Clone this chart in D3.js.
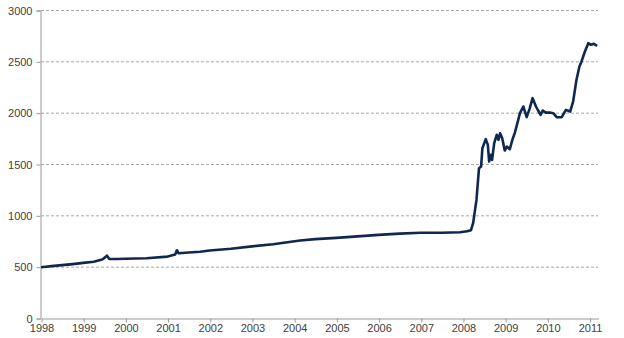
<!DOCTYPE html>
<html>
<head>
<meta charset="utf-8">
<script src="https://cdn.jsdelivr.net/npm/d3@7"></script>
<style>
    body { margin: 0; background: #fff; }
    svg { display: block; }
</style>
</head>
<body>
<div id="chart"></div>
<script>
// data (decimal year, value)
const years = [
    1998.0, 1998.25, 1998.5, 1998.75, 1999.0, 1999.25, 1999.45, 1999.52, 1999.56, 1999.62, 1999.8,
    2000.0, 2000.5, 2001.0, 2001.18, 2001.22, 2001.26, 2001.5, 2001.77, 2002.0, 2002.5, 2003.0, 2003.5,
    2004.14, 2004.5, 2005.0, 2005.5, 2006.0, 2006.5, 2007.0, 2007.5, 2007.93, 2008.1, 2008.19,
    2008.24, 2008.32, 2008.38, 2008.43, 2008.46, 2008.54, 2008.59, 2008.62, 2008.66, 2008.69,
    2008.74, 2008.8, 2008.84, 2008.88, 2008.93, 2008.99, 2009.04, 2009.11, 2009.17, 2009.23,
    2009.31, 2009.35, 2009.43, 2009.51, 2009.58, 2009.65, 2009.73, 2009.78, 2009.84, 2009.89,
    2009.96, 2010.06, 2010.14, 2010.22, 2010.34, 2010.44, 2010.54, 2010.61, 2010.69, 2010.76,
    2010.79, 2010.81, 2010.89, 2010.97, 2011.03, 2011.1, 2011.18
];
const values = [
    495, 505, 515, 525, 537, 548, 570, 590, 608, 575, 575,
    577, 582, 598, 618, 660, 630, 638, 646, 658, 675, 698, 718,
    755, 768, 780, 795, 810, 822, 830, 830, 835, 845, 855,
    923, 1150, 1459, 1475, 1654, 1742, 1686, 1524, 1589, 1540,
    1703, 1784, 1735, 1800, 1751, 1631, 1670, 1644, 1735, 1806,
    1930, 1995, 2060, 1956, 2040, 2141, 2060, 2021, 1979, 2021,
    2000, 2001, 1995, 1956, 1956, 2027, 2011, 2108, 2320, 2450,
    2480, 2499, 2596, 2677, 2661, 2671, 2651
];
const xTicks = d3.range(1998, 2012);
const yTicks = [0, 500, 1000, 1500, 2000, 2500, 3000];

const width = 624;
const height = 338;

const xScale = d3.scaleLinear()
    .domain([1998, 2011.2])
    .range([41, 598]);

const yScale = d3.scaleLinear()
    .domain([0, 3000])
    .range([318, 10]);

const svg = d3.select("#chart").append("svg")
    .attr("width", width)
    .attr("height", height)
    .style("font-family", "Arial, 'Liberation Sans', sans-serif");

// dashed grid lines
svg.append("g")
    .selectAll("line")
    .data(yTicks.filter(d => d > 0))
    .enter()
    .append("line")
    .attr("x1", xScale.range()[0])
    .attr("x2", xScale.range()[1])
    .attr("y1", d => yScale(d) + 0.5)
    .attr("y2", d => yScale(d) + 0.5)
    .attr("stroke", "#a6a6a6")
    .attr("stroke-width", 1)
    .attr("stroke-dasharray", "3,2");

// y axis
const yAxis = svg.append("g")
    .attr("transform", `translate(${xScale.range()[0] - 0.5}, 0.5)`)
    .call(d3.axisLeft(yScale).tickValues(yTicks).tickFormat(d3.format("d")).tickSize(4).tickPadding(4));
yAxis.select(".domain").attr("stroke", "#9a9a9a");
yAxis.selectAll(".tick line").attr("stroke", "#9a9a9a");
yAxis.selectAll("text")
    .attr("fill", "#404040")
    .style("font-size", "11px");

// x axis
const xAxis = svg.append("g")
    .attr("transform", `translate(0.5, ${yScale(0) + 0.5})`)
    .call(d3.axisBottom(xScale).tickValues(xTicks).tickFormat(d3.format("d")).tickSizeInner(4).tickSizeOuter(0).tickPadding(2));
xAxis.select(".domain").attr("stroke", "#9a9a9a");
xAxis.selectAll(".tick line").attr("stroke", "#9a9a9a");
xAxis.selectAll("text")
    .attr("fill", "#404040")
    .style("font-size", "11px");

// the series
const line = d3.line()
    .x((d, i) => xScale(years[i]))
    .y(d => yScale(d));

svg.append("path")
    .datum(values)
    .attr("d", line)
    .attr("fill", "none")
    .attr("stroke", "#0f2850")
    .attr("stroke-width", 2.6)
    .attr("stroke-linejoin", "round");
</script>
</body>
</html>
